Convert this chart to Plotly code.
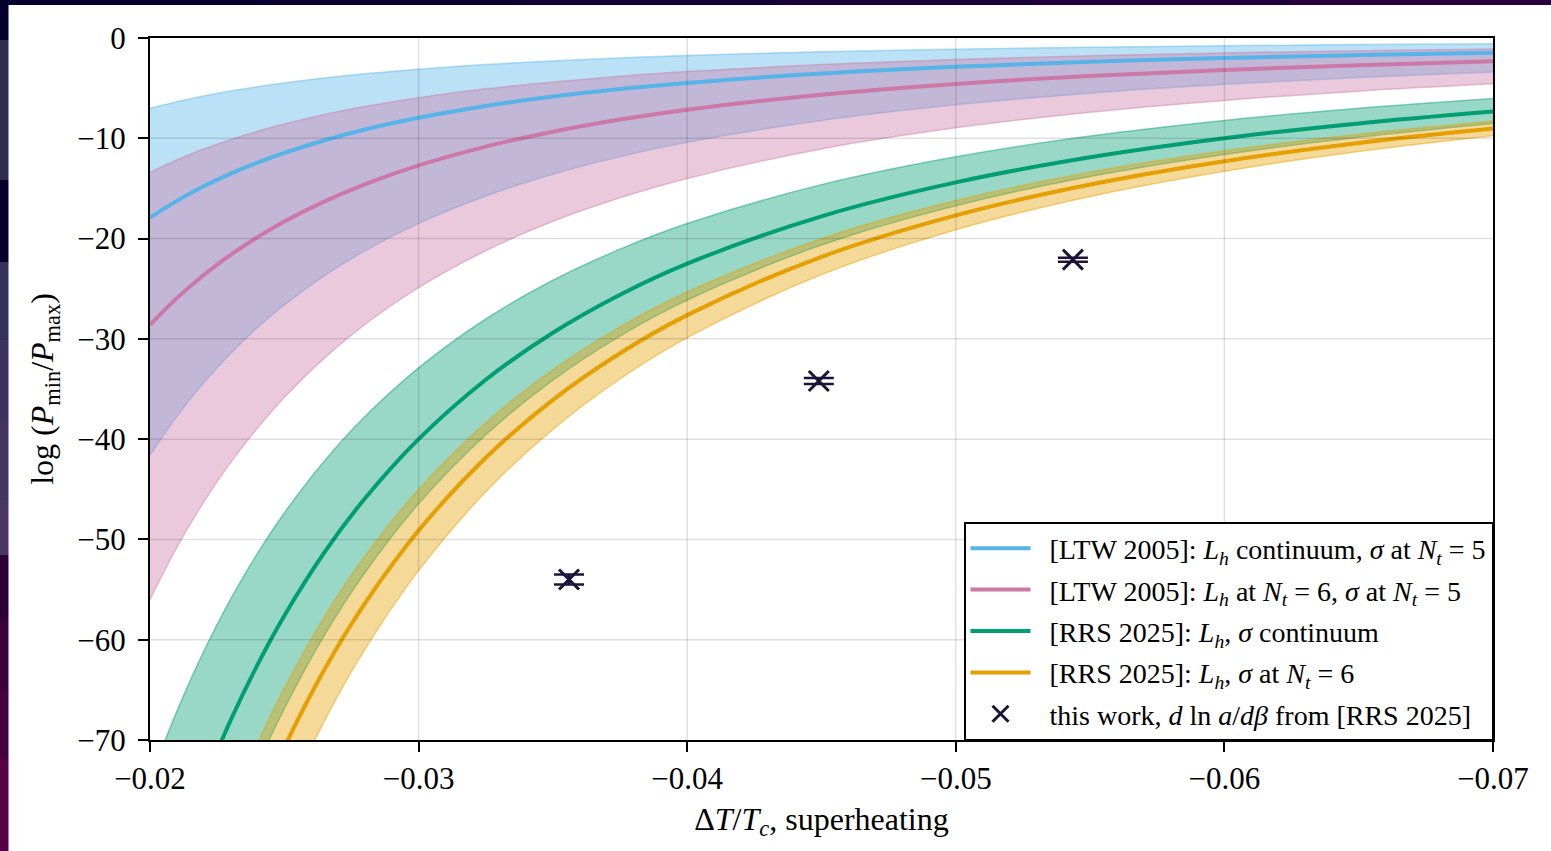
import plotly.graph_objects as go

# ---------------- data ----------------
x_grid = [-0.0200, -0.0210, -0.0220, -0.0230, -0.0240, -0.0250, -0.0265, -0.0280,
          -0.0300, -0.0325, -0.0350, -0.0375, -0.0400, -0.0450, -0.0500, -0.0550,
          -0.0600, -0.0650, -0.0700]

ltw_cont_mid = [-17.9, -16.24, -14.79, -13.53, -12.43, -11.46, -10.20, -9.13, -7.96, -6.78,
                -5.84, -5.09, -4.48, -3.54, -2.86, -2.37, -1.99, -1.70, -1.46]
ltw_cont_hi = [-7.0, -6.35, -5.78, -5.29, -4.86, -4.48, -3.99, -3.57, -3.11, -2.65,
               -2.29, -1.99, -1.75, -1.38, -1.12, -0.93, -0.78, -0.66, -0.57]
ltw_cont_lo = [-41.6, -37.73, -34.38, -31.45, -28.89, -26.62, -23.70, -21.22, -18.49, -15.75,
               -13.58, -11.83, -10.40, -8.22, -6.66, -5.50, -4.62, -3.94, -3.39]

ltw_nt6_mid = [-28.6, -25.94, -23.63, -21.62, -19.86, -18.30, -16.29, -14.59, -12.71, -10.83,
               -9.34, -8.13, -7.15, -5.65, -4.58, -3.78, -3.18, -2.71, -2.33]
ltw_nt6_hi = [-13.4, -12.15, -11.07, -10.13, -9.30, -8.58, -7.63, -6.84, -5.96, -5.07,
              -4.38, -3.81, -3.35, -2.65, -2.14, -1.77, -1.49, -1.27, -1.09]
ltw_nt6_lo = [-56.0, -50.79, -46.28, -42.34, -38.89, -35.84, -31.90, -28.57, -24.89, -21.21,
              -18.28, -15.93, -14.00, -11.06, -8.96, -7.40, -6.22, -5.30, -4.57]

rrs_cont_mid = [-90.0, -81.63, -74.38, -68.05, -62.50, -57.60, -51.26, -45.92, -40.00, -34.08,
                -29.39, -25.60, -22.50, -17.78, -14.40, -11.90, -10.00, -8.52, -7.34]
rrs_cont_hi = [-74.0, -67.12, -61.15, -55.95, -51.39, -47.36, -42.15, -37.75, -32.89, -28.02,
               -24.16, -21.05, -18.50, -14.62, -11.84, -9.78, -8.22, -7.01, -6.04]
rrs_cont_lo = [-104.5, -94.78, -86.36, -79.01, -72.56, -66.88, -59.52, -53.32, -46.44, -39.57,
               -34.12, -29.72, -26.13, -20.64, -16.72, -13.81, -11.61, -9.90, -8.53]

rrs_nt6_mid = [-110.5, -100.22, -91.32, -83.55, -76.73, -70.72, -62.94, -56.38, -49.11, -41.85,
               -36.08, -31.43, -27.63, -21.82, -17.68, -14.61, -12.28, -10.46, -9.02]
rrs_nt6_hi = [-101.3, -91.88, -83.71, -76.59, -70.34, -64.83, -57.70, -51.68, -45.02, -38.36,
              -33.07, -28.81, -25.33, -20.01, -16.21, -13.39, -11.25, -9.59, -8.27]
rrs_nt6_lo = [-119.5, -108.39, -98.75, -90.35, -82.98, -76.48, -68.07, -60.97, -53.11, -45.25,
              -39.02, -33.99, -29.88, -23.60, -19.12, -15.80, -13.28, -11.32, -9.75]

work_x = [-0.0356, -0.0449, -0.05436]
work_y = [-54.0, -34.2, -22.1]
work_err = [0.5, 0.3, 0.2]

x_ticks = [-0.02, -0.03, -0.04, -0.05, -0.06, -0.07]
x_ticktext = ["\u22120.02", "\u22120.03", "\u22120.04", "\u22120.05", "\u22120.06", "\u22120.07"]
y_ticks = [0, -10, -20, -30, -40, -50, -60, -70]
y_ticktext = ["0", "\u221210", "\u221220", "\u221230", "\u221240", "\u221250", "\u221260", "\u221270"]

GAP = "\u00a0\u00a0"
names = [
    GAP + "[LTW 2005]: <i>L<sub>h</sub></i> continuum, <i>\u03c3</i> at <i>N<sub>t</sub></i> = 5",
    GAP + "[LTW 2005]: <i>L<sub>h</sub></i> at <i>N<sub>t</sub></i> = 6, <i>\u03c3</i> at <i>N<sub>t</sub></i> = 5",
    GAP + "[RRS 2025]: <i>L<sub>h</sub></i>, <i>\u03c3</i> continuum",
    GAP + "[RRS 2025]: <i>L<sub>h</sub></i>, <i>\u03c3</i> at <i>N<sub>t</sub></i> = 6",
]
work_name = GAP + "this work, <i>d</i> ln <i>a</i>/<i>d\u03b2</i> from [RRS 2025]"

# ---------------- styling ----------------
FONT = "Liberation Serif"
colors = ["#56B4E9", "#CC79A7", "#009E73", "#E69F00"]
rgb = [(86, 180, 233), (204, 121, 167), (0, 158, 115), (230, 159, 0)]
series = [
    (ltw_cont_lo, ltw_cont_mid, ltw_cont_hi),
    (ltw_nt6_lo, ltw_nt6_mid, ltw_nt6_hi),
    (rrs_cont_lo, rrs_cont_mid, rrs_cont_hi),
    (rrs_nt6_lo, rrs_nt6_mid, rrs_nt6_hi),
]

fig = go.Figure()

for (lo, mid, hi), (r, g, b) in zip(series, rgb):
    edge = dict(color=f"rgba({r},{g},{b},0.45)", width=1.5, shape="spline", smoothing=1.0)
    fig.add_trace(go.Scatter(x=x_grid, y=lo, mode="lines", line=edge,
                             showlegend=False, hoverinfo="skip"))
    fig.add_trace(go.Scatter(x=x_grid, y=hi, mode="lines", line=edge, fill="tonexty",
                             fillcolor=f"rgba({r},{g},{b},0.4)",
                             showlegend=False, hoverinfo="skip"))

for i, ((lo, mid, hi), c) in enumerate(zip(series, colors)):
    fig.add_trace(go.Scatter(x=x_grid, y=mid, mode="lines", name=names[i],
                             legendgroup=f"g{i}",
                             line=dict(color=c, width=4, shape="spline", smoothing=1.0)))

fig.add_trace(go.Scatter(
    x=work_x, y=work_y, mode="markers", name=work_name, legendgroup="g4",
    marker=dict(symbol="x-thin", size=20, line=dict(color="#1c1438", width=3), color="#1c1438"),
    error_y=dict(type="data", array=work_err, visible=True, color="#1c1438",
                 thickness=2.5, width=15),
))

# translucent grid drawn above the bands (as in the reference)
shapes = []
grid_col = "rgba(0,0,0,0.12)"
for xv in x_ticks[1:-1]:
    shapes.append(dict(type="line", xref="x", yref="paper", x0=xv, x1=xv, y0=0, y1=1,
                       line=dict(color=grid_col, width=1.5), layer="above"))
for yv in y_ticks[1:-1]:
    shapes.append(dict(type="line", xref="paper", yref="y", x0=0, x1=1, y0=yv, y1=yv,
                       line=dict(color=grid_col, width=1.5), layer="above"))

# decorative slide background strips (top and left edges)
W, H = 1551, 851
L, R, T, B = 150, 58, 38, 111
pw, ph = W - L - R, H - T - B


def px_x(p):
    return (p - L) / pw


def px_y(p):
    return (H - B - p) / ph


top_cols = ["#05002e", "#0a0032", "#120035", "#1a0038", "#22003b", "#2a003e"]
n = len(top_cols)
for k, c in enumerate(top_cols):
    shapes.append(dict(type="rect", xref="paper", yref="paper",
                       x0=px_x(k * W / n), x1=px_x((k + 1) * W / n + 1),
                       y0=px_y(5), y1=px_y(-2), fillcolor=c, line=dict(width=0),
                       layer="above"))

left_bands = [
    (0, 40, "#05002e"), (40, 180, "#2e2c52"), (180, 262, "#07002e"),
    (262, 340, "#35305a"), (340, 420, "#3b325e"), (420, 500, "#433462"),
    (500, 555, "#4b3565"), (555, 620, "#2f0038"), (620, 690, "#3a003c"),
    (690, 760, "#470040"), (760, 852, "#560045"),
]
for y0, y1, c in left_bands:
    shapes.append(dict(type="rect", xref="paper", yref="paper",
                       x0=px_x(-2), x1=px_x(8.5), y0=px_y(y1), y1=px_y(y0),
                       fillcolor=c, line=dict(width=0), layer="above"))

axis_common = dict(
    showgrid=False, zeroline=False, showline=True, linecolor="black", linewidth=2,
    mirror=True, ticks="outside", ticklen=10, tickwidth=2, tickcolor="black",
    tickfont=dict(family=FONT, size=31, color="black"),
)

fig.update_layout(
    width=W, height=H,
    margin=dict(l=L, r=R, t=T, b=B, pad=0),
    paper_bgcolor="white", plot_bgcolor="white",
    font=dict(family=FONT, color="black"),
    shapes=shapes,
    xaxis=dict(range=[-0.02, -0.07], tickvals=x_ticks, ticktext=x_ticktext,
               title=dict(text="\u0394<i>T</i>/<i>T<sub>c</sub></i>, superheating",
                          font=dict(family=FONT, size=32), standoff=12),
               **axis_common),
    yaxis=dict(range=[-70, 0], tickvals=y_ticks, ticktext=y_ticktext, ticklabelstandoff=6,
               title=dict(text="log (<i>P</i><sub>min</sub>/<i>P</i><sub>max</sub>)",
                          font=dict(family=FONT, size=32), standoff=14),
               **axis_common),
    legend=dict(x=1, y=0, xanchor="right", yanchor="bottom",
                bgcolor="white", bordercolor="black", borderwidth=1.5,
                font=dict(family=FONT, size=28, color="black"),
                itemwidth=60, traceorder="grouped", tracegroupgap=2),
    showlegend=True,
)

fig.write_html("out.html")
